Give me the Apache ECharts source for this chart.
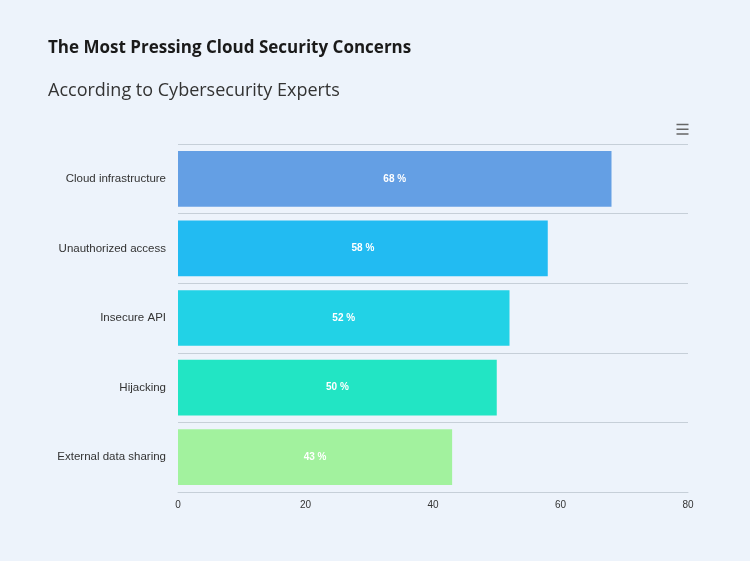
<!DOCTYPE html>
<html>
<head>
<meta charset="utf-8">
<script src="https://cdn.jsdelivr.net/npm/echarts@6/dist/echarts.min.js"></script>
<style>
  html, body { margin: 0; padding: 0; background: #edf3fb; }
  #main { width: 750px; height: 561px; }
</style>
</head>
<body>
<div id="main"></div>
<script>
// 数据
var categories = ['Cloud infrastructure', 'Unauthorized access', 'Insecure API', 'Hijacking', 'External data sharing'];
var values = [68, 58, 52, 50, 43];
var colors = ['#649fe4', '#22bbf2', '#22d2e6', '#22e5c4', '#a2f29e'];

var myChart = echarts.init(document.getElementById('main'));
var option = {
  backgroundColor: '#edf3fb',
  title: {
    text: 'The Most Pressing Cloud Security Concerns',
    subtext: 'According to Cybersecurity Experts',
    left: 43,
    top: 35,
    itemGap: 25,
    textStyle: { fontFamily: 'Open Sans', fontSize: 17, fontWeight: 'bold', color: '#1a1a1a' },
    subtextStyle: { fontFamily: 'Open Sans', fontSize: 18, color: '#333' }
  },
  toolbox: {
    right: 44,
    top: 107,
    itemSize: 12,
    feature: { restore: { icon: 'path://M2,4H22M2,12H22M2,20H22' } },
    iconStyle: { borderColor: '#666', borderWidth: 1.5 }
  },
  grid: { left: 178, right: 62, top: 144, bottom: 69 },
  xAxis: {
    type: 'value',
    min: 0,
    max: 80,
    interval: 20,
    splitLine: { show: false },
    axisLine: { show: true, lineStyle: { color: '#c6cfd8' } },
    axisLabel: { fontFamily: 'Helvetica, Arial', fontSize: 10, color: '#333' }
  },
  yAxis: {
    type: 'category',
    inverse: true,
    data: categories,
    axisTick: { show: false },
    axisLine: { show: false },
    splitLine: { show: true, lineStyle: { color: '#c6cfd8' } },
    axisLabel: { fontFamily: 'Helvetica, Arial', fontSize: 11.5, color: '#333', margin: 12 }
  },
  series: [{
    type: 'bar',
    barCategoryGap: '20%',
    data: values.map(function (v, i) { return { value: v, itemStyle: { color: colors[i] } }; }),
    label: {
      show: true,
      position: 'inside',
      formatter: '{c} %',
      color: '#fff',
      fontSize: 10,
      fontWeight: 'bold',
      fontFamily: 'Helvetica, Arial'
    }
  }]
};
myChart.setOption(option);
</script>
</body>
</html>
